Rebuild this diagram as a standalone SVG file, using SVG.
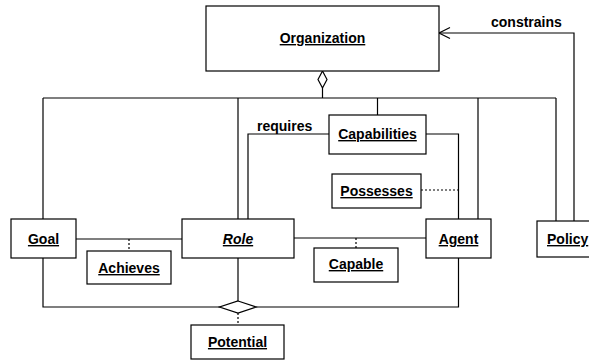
<svg xmlns="http://www.w3.org/2000/svg" width="589" height="362" viewBox="0 0 589 362">
<style>
.box{fill:#fff;stroke:#000;stroke-width:1.2}
.t{font-family:"Liberation Sans",Arial,sans-serif;font-size:14px;font-weight:bold;text-decoration:underline;text-anchor:middle;fill:#000}
.lbl{font-family:"Liberation Sans",Arial,sans-serif;font-size:14px;font-weight:bold;fill:#000}
.ln{fill:none;stroke:#000;stroke-width:1.2}
.dot{fill:none;stroke:#000;stroke-width:1.2;stroke-dasharray:2 2}
.dia{fill:#fff;stroke:#000;stroke-width:1.2}
</style>
<rect width="589" height="362" fill="#fff"/>
<g id="connectors">
<polyline class="ln" points="43,98 556,98"/>
<line class="ln" x1="322.5" y1="88" x2="322.5" y2="98"/>
<line class="ln" x1="43" y1="98" x2="43" y2="219"/>
<line class="ln" x1="238" y1="98" x2="238" y2="219"/>
<line class="ln" x1="377.5" y1="98" x2="377.5" y2="115"/>
<line class="ln" x1="478" y1="98" x2="478" y2="219"/>
<line class="ln" x1="556" y1="98" x2="556" y2="221"/>
<polygon class="dia" points="322.5,71 327,79.5 322.5,88 318,79.5"/>
<polyline class="ln" points="248,219 248,134 329,134"/>
<polyline class="ln" points="426,134 458.5,134 458.5,219"/>
<line class="dot" x1="421" y1="190" x2="458.5" y2="190"/>
<line class="ln" x1="76" y1="239" x2="182" y2="239"/>
<line class="dot" x1="129" y1="239" x2="129" y2="251"/>
<line class="ln" x1="294" y1="238" x2="426" y2="238"/>
<line class="dot" x1="356" y1="238" x2="356" y2="248"/>
<polyline class="ln" points="43,258 43,307 458.5,307 458.5,258"/>
<line class="ln" x1="238" y1="258" x2="238" y2="301"/>
<polygon class="dia" points="238,301 256,307 238,313 219.5,307"/>
<line class="dot" x1="238" y1="313" x2="238" y2="325"/>
<polyline class="ln" points="574,221 574,33 439,33"/>
<polyline class="ln" points="450,27.5 439,33 450,38.5"/>
<text class="lbl" x="491" y="27">constrains</text>
<text class="lbl" x="257" y="131">requires</text>
</g>
<g id="organization"><rect class="box" x="206" y="6" width="233" height="65"/><text class="t" x="322.5" y="43">Organization</text></g>
<g id="goal"><rect class="box" x="11" y="219" width="65" height="39"/><text class="t" x="43.5" y="244">Goal</text></g>
<g id="role"><rect class="box" x="182" y="219" width="112" height="39"/><text class="t" x="238" y="244" font-style="italic">Role</text></g>
<g id="agent"><rect class="box" x="426" y="219" width="65" height="39"/><text class="t" x="458.5" y="244">Agent</text></g>
<g id="policy"><rect class="box" x="537" y="221" width="62" height="36"/><text class="t" x="547" y="244" style="text-anchor:start">Policy</text></g>
<g id="capabilities"><rect class="box" x="329" y="115" width="97" height="39"/><text class="t" x="377.5" y="139">Capabilities</text></g>
<g id="possesses"><rect class="box" x="332" y="174" width="89" height="34"/><text class="t" x="376.5" y="196">Possesses</text></g>
<g id="achieves"><rect class="box" x="87" y="251" width="84" height="33"/><text class="t" x="129" y="273">Achieves</text></g>
<g id="capable"><rect class="box" x="314" y="248" width="84" height="34"/><text class="t" x="356" y="269">Capable</text></g>
<g id="potential"><rect class="box" x="191" y="325" width="93" height="34"/><text class="t" x="237.5" y="347">Potential</text></g>
</svg>
